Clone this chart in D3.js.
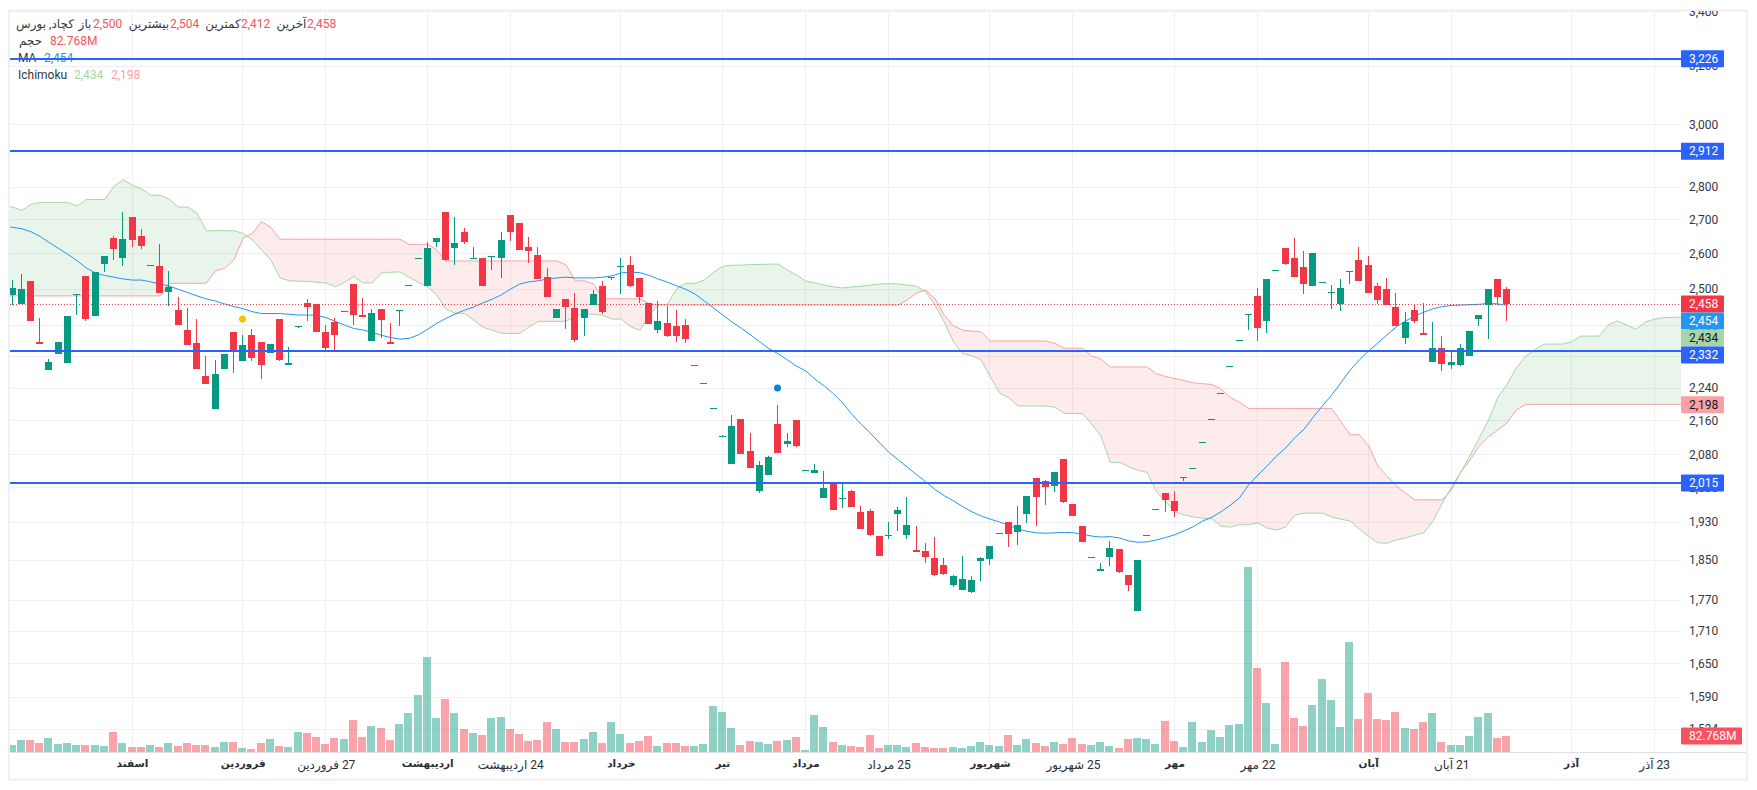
<!DOCTYPE html>
<html>
<head>
<meta charset="utf-8">
<title>کچاد</title>
<script src="https://cdn.jsdelivr.net/npm/d3@7"></script>
<style>
  html, body { margin: 0; background: #fff; }
  svg { display: block; }
  text { font-family: Roboto, "DejaVu Sans", sans-serif; font-size: 12px; }
</style>
</head>
<body>
<div id="chart"></div>
<script>
// candles
const opens = [
  2482,2458,2521,2357,2284,2326,2302,2482,2535,2426,
  2569,2645,2587,2707,2651,2566,2563,2491,2442,2388,
  2354,2269,2187,2287,2383,2307,2375,2357,2328,2417,
  2297,2396,2461,2458,2383,2409,2439,2513,2428,2359,
  2445,2357,2439,2510,2587,2507,2633,2722,2616,2662,
  2584,2587,2590,2587,2713,2689,2619,2595,2532,2420,
  2472,2447,2420,2455,2507,2530,2560,2566,2530,2461,
  2388,2407,2399,2401,2297,2252,2190,2121,2058,2163,
  2088,1998,2033,2151,2104,2161,2045,2038,1982,2013,
  1980,1998,1952,1954,1900,1900,1947,1902,1871,1869,
  1854,1840,1800,1790,1786,1848,1852,1907,1930,1909,
  1947,2027,2020,2009,2069,1969,1921,1856,1828,1856,
  1873,1820,1749,1902,1958,1993,1976,2027,2049,2109,
  2163,2227,2294,2362,2428,2480,2412,2552,2616,2587,
  2561,2507,2518,2488,2458,2546,2581,2566,2507,2499,
  2450,2367,2442,2380,2305,2341,2297,2297,2320,2417,
  2455,2527,2500
];
const highs = [
  2524,2541,2521,2420,2313,2357,2426,2485,2535,2546,
  2593,2651,2722,2707,2671,2566,2628,2549,2477,2447,
  2417,2320,2310,2326,2383,2375,2391,2357,2352,2417,
  2344,2399,2472,2458,2401,2420,2439,2513,2474,2445,
  2445,2407,2442,2510,2587,2633,2645,2722,2707,2674,
  2619,2587,2593,2662,2713,2689,2648,2619,2558,2445,
  2472,2488,2445,2496,2521,2532,2587,2593,2530,2461,
  2466,2453,2442,2417,2297,2252,2190,2125,2173,2163,
  2130,2065,2076,2197,2130,2161,2045,2058,2043,2013,
  2013,2000,1965,1958,1900,1930,1963,1985,1921,1886,
  1898,1854,1820,1858,1818,1856,1879,1907,1930,1965,
  1987,2027,2022,2040,2069,1969,1921,1856,1844,1890,
  1873,1820,1850,1902,1958,1993,1998,2029,2049,2109,
  2163,2227,2294,2362,2431,2502,2527,2552,2616,2645,
  2607,2601,2518,2510,2527,2549,2619,2593,2516,2530,
  2488,2436,2458,2461,2409,2372,2333,2352,2386,2428,
  2499,2527,2504
];
const lows = [
  2455,2458,2412,2352,2284,2326,2302,2428,2412,2426,
  2546,2581,2563,2619,2613,2566,2488,2453,2401,2349,
  2287,2249,2187,2287,2276,2307,2307,2261,2328,2307,
  2297,2393,2412,2383,2331,2331,2439,2401,2423,2359,
  2367,2352,2399,2510,2587,2507,2619,2578,2566,2627,
  2584,2507,2552,2530,2636,2610,2572,2527,2477,2420,
  2391,2357,2372,2455,2431,2524,2485,2505,2461,2404,
  2380,2370,2357,2354,2297,2252,2190,2121,2058,2081,
  2049,1993,2033,2083,2097,2097,2045,2038,1982,1956,
  1960,1963,1915,1900,1858,1894,1911,1894,1867,1844,
  1818,1820,1796,1790,1784,1808,1840,1907,1877,1881,
  1928,1921,1967,1996,1972,1943,1888,1856,1828,1838,
  1824,1788,1749,1902,1958,1952,1941,2020,2049,2109,
  2163,2227,2294,2362,2388,2359,2380,2552,2566,2532,
  2485,2507,2518,2445,2439,2513,2521,2488,2458,2455,
  2399,2352,2407,2375,2305,2282,2287,2294,2320,2399,
  2364,2455,2412
];
const closes = [
  2502,2499,2412,2352,2305,2357,2426,2485,2418,2546,
  2593,2613,2642,2639,2622,2566,2488,2505,2401,2349,
  2287,2249,2274,2326,2331,2349,2315,2297,2352,2310,
  2302,2399,2450,2383,2341,2375,2439,2428,2423,2434,
  2415,2352,2442,2510,2587,2616,2645,2581,2630,2633,
  2587,2507,2593,2639,2662,2610,2607,2527,2477,2445,
  2450,2362,2445,2485,2436,2532,2563,2507,2477,2404,
  2412,2372,2372,2365,2297,2252,2190,2123,2147,2081,
  2049,2056,2074,2083,2112,2100,2045,2045,2004,1956,
  1982,1963,1915,1902,1858,1902,1956,1923,1867,1856,
  1820,1822,1818,1812,1810,1854,1879,1907,1905,1923,
  1987,1985,2007,2040,1974,1943,1888,1856,1832,1875,
  1826,1800,1850,1902,1958,1978,1954,2029,2049,2109,
  2163,2227,2294,2362,2431,2393,2527,2552,2569,2532,
  2513,2601,2518,2491,2502,2549,2521,2488,2469,2455,
  2399,2409,2412,2375,2341,2300,2305,2341,2386,2428,
  2499,2477,2458
];
// volume in millions
const volumes = [
  38,64,64,48,74,43,48,38,38,38,
  33,105,48,28,28,38,28,48,33,48,
  38,38,28,53,53,22,17,48,69,33,
  28,105,100,79,43,74,69,167,79,136,
  126,64,146,203,296,493,177,276,203,121,
  100,90,177,183,121,95,59,64,157,121,
  53,53,69,105,48,157,95,48,59,84,
  33,48,48,33,33,43,240,208,126,38,
  59,53,43,59,64,79,12,193,131,53,
  38,33,28,90,22,38,38,28,48,28,
  22,22,28,22,33,53,38,33,90,38,
  69,48,33,53,43,74,43,38,53,33,
  22,69,74,69,43,162,59,28,157,52,
  114,78,140,145,956,434,253,41,465,176,
  134,243,377,269,129,569,171,305,171,165,
  207,124,119,155,202,52,36,36,83,181,
  202,72,82.768
];

// indicators start one bar before the first candle, the spans run on past the last one
const indicatorStart = -1;
const maValues = [
  2678,2676,2672,2663,2649,2631,2614,2597,2579,2558,2544,
  2537,2532,2527,2524,2524,2519,2513,2507,2498,2489,
  2480,2472,2466,2458,2451,2445,2437,2432,2432,2432,
  2430,2428,2428,2427,2421,2411,2401,2392,2388,2382,
  2374,2368,2364,2366,2375,2390,2406,2419,2431,2441,
  2450,2461,2471,2483,2499,2513,2519,2522,2527,2530,
  2532,2530,2530,2530,2532,2536,2544,2546,2545,2537,
  2527,2518,2508,2498,2485,2466,2447,2428,2409,2393,
  2375,2357,2339,2326,2310,2294,2282,2261,2244,2225,
  2202,2175,2151,2130,2107,2085,2068,2051,2034,2018,
  2001,1987,1976,1963,1952,1943,1936,1930,1923,1915,
  1910,1907,1906,1907,1908,1907,1904,1900,1898,1899,
  1896,1890,1887,1888,1892,1897,1903,1911,1920,1932,
  1940,1952,1966,1982,2011,2033,2054,2076,2095,2119,
  2139,2168,2195,2222,2252,2284,2310,2333,2354,2375,
  2396,2412,2425,2436,2445,2451,2454,2455,2456,2457,
  2460,2458,2454
];
const spanA = [
  2740,2737,2727,2745,2751,2751,2751,2751,2740,2760,2760,
  2760,2801,2821,2804,2793,2773,2773,2760,2737,2737,
  2718,2666,2666,2666,2666,2658,2639,2610,2581,2530,
  2522,2521,2520,2518,2516,2505,2518,2534,2516,2516,
  2544,2546,2547,2532,2518,2505,2482,2444,2433,2432,
  2415,2395,2388,2379,2379,2379,2396,2411,2411,2411,
  2411,2424,2432,2430,2427,2417,2417,2397,2387,2424,
  2456,2457,2500,2515,2515,2524,2546,2563,2566,2566,
  2568,2568,2569,2569,2552,2538,2521,2516,2510,2505,
  2502,2505,2507,2510,2513,2514,2513,2510,2507,2491,
  2455,2409,2357,2326,2321,2310,2267,2227,2215,2195,
  2195,2195,2195,2192,2177,2177,2177,2151,2123,2062,
  2062,2052,2044,2039,1996,1974,1952,1945,1941,1938,
  1937,1921,1919,1924,1924,1928,1917,1913,1919,1945,
  1949,1949,1949,1941,1936,1932,1915,1900,1886,1885,
  1892,1896,1902,1907,1932,1971,2007,2040,2078,2119,
  2161,2215,2248,2289,2319,2336,2351,2351,2351,2357,
  2372,2372,2372,2402,2412,2401,2390,2409,2417,2421,
  2422,2422
];
const spanB = [
  2480,2480,2480,2480,2480,2480,2480,2480,2480,2480,2480,
  2480,2480,2480,2480,2480,2480,2480,2515,2515,2515,
  2515,2515,2550,2557,2581,2644,2658,2693,2676,2641,
  2641,2641,2641,2641,2641,2641,2641,2641,2641,2641,
  2641,2641,2641,2626,2626,2626,2610,2578,2578,2578,
  2578,2578,2578,2578,2578,2578,2578,2578,2578,2578,
  2567,2522,2522,2513,2472,2472,2472,2472,2472,2460,
  2455,2455,2455,2455,2455,2455,2455,2455,2455,2455,
  2455,2455,2455,2455,2455,2455,2455,2455,2455,2455,
  2455,2455,2455,2455,2455,2455,2455,2469,2488,2496,
  2472,2428,2399,2388,2385,2383,2359,2359,2359,2359,
  2359,2359,2359,2353,2340,2340,2340,2320,2312,2292,
  2292,2292,2292,2292,2275,2268,2263,2258,2252,2250,
  2248,2237,2216,2204,2189,2189,2189,2189,2189,2189,
  2189,2189,2189,2189,2157,2126,2126,2101,2054,2031,
  2009,1993,1978,1978,1978,1978,2000,2040,2067,2100,
  2121,2137,2154,2185,2199,2199,2199,2199,2199,2199,
  2199,2199,2199,2199,2199,2199,2199,2199,2199,2199,
  2199,2199
];

const markerBars = [25, 83];
const markerPrices = [2417, 2239];
const markerColors = ["#f5c400", "#0d7fd6"];

const levelLines = [3226, 2912, 2332, 2015];
const lastPrice = 2458;
const lastMa = 2454;
const lastSpanA = 2434;
const lastSpanB = 2198;
const lastVolumeText = "82.768M";

const priceTicks = [3400,3200,3000,2800,2700,2600,2500,2400,2320,2240,2160,2080,2006,1930,1850,1770,1710,1650,1590,1534];
const timeTickBars = [13,25,34,45,54,66,77,86,95,106,115,126,135,147,156,169,178];
const timeTickLabels = ["اسفند","فروردین","27 فروردین","اردیبهشت","24 اردیبهشت","خرداد","تیر","مرداد","25 مرداد","شهریور","25 شهریور","مهر","22 مهر","آبان","21 آبان","آذر","23 آذر"];
const timeTickBold = [true,true,false,true,false,true,true,true,false,true,false,true,false,true,false,true,false];

const width = 1757, height = 790;
const pane = { left: 10, top: 11, right: 1681, bottom: 752 };
const green = "#089981", red = "#f23645", blue = "#2962ff";
const fmt = d3.format(",");

const svg = d3.select("#chart").append("svg").attr("width", width).attr("height", height);
const defs = svg.append("defs");

const xLinear = d3.scaleLinear().domain([0, 162]).range([12.1, 1506.55]);
const x = i => Math.floor(xLinear(i)) + 0.5;
const y = d3.scaleLog().domain([3000, 1650]).range([124.3, 663.3]);
const yVol = d3.scaleLinear().domain([0, 82.768]).range([pane.bottom, pane.bottom - 16]);

defs.append("clipPath").attr("id", "paneClip").append("rect")
  .attr("x", pane.left).attr("y", pane.top)
  .attr("width", pane.right - pane.left).attr("height", pane.bottom - pane.top);
defs.append("clipPath").attr("id", "scaleClip").append("rect")
  .attr("x", pane.right).attr("y", pane.top)
  .attr("width", 66).attr("height", height - pane.top);

// frame
svg.append("rect").attr("x", 9).attr("y", 10.5).attr("width", 1738).attr("height", 769)
  .attr("fill", "none").attr("stroke", "#f0f0f4").attr("stroke-width", 2);

// grid
const grid = svg.append("g").attr("shape-rendering", "crispEdges").attr("stroke", "#f0f0f2");
grid.selectAll(".h").data(priceTicks).enter().append("line")
  .attr("x1", pane.left).attr("x2", pane.right)
  .attr("y1", d => Math.round(y(d)) + 0.5).attr("y2", d => Math.round(y(d)) + 0.5);
grid.selectAll(".v").data(timeTickBars).enter().append("line")
  .attr("x1", d => x(d)).attr("x2", d => x(d))
  .attr("y1", pane.top).attr("y2", pane.bottom);

const plot = svg.append("g").attr("clip-path", "url(#paneClip)");

// volume
plot.append("g").attr("shape-rendering", "crispEdges")
  .selectAll("rect").data(volumes).enter().append("rect")
  .attr("x", (d, i) => x(i) - 4.5)
  .attr("width", 8)
  .attr("y", d => yVol(d))
  .attr("height", d => pane.bottom - yVol(d))
  .attr("fill", (d, i) => closes[i] >= opens[i] ? green : red)
  .attr("fill-opacity", 0.45);

// ichimoku cloud, split in two where the spans cross
const cloudRows = spanA.map((a, k) => ({ i: k + indicatorStart, a, b: spanB[k] }));
const cloudX = d => xLinear(d.i) + 0.4;
defs.append("clipPath").attr("id", "aboveB").append("path")
  .attr("d", d3.area().x(cloudX).y0(0).y1(d => y(d.b))(cloudRows));
defs.append("clipPath").attr("id", "belowB").append("path")
  .attr("d", d3.area().x(cloudX).y0(d => y(d.b)).y1(height)(cloudRows));
const cloudArea = d3.area().x(cloudX).y0(d => y(d.a)).y1(d => y(d.b));
plot.append("g").attr("clip-path", "url(#aboveB)").append("path")
  .attr("d", cloudArea(cloudRows)).attr("fill", "#4caf50").attr("fill-opacity", 0.12);
plot.append("g").attr("clip-path", "url(#belowB)").append("path")
  .attr("d", cloudArea(cloudRows)).attr("fill", red).attr("fill-opacity", 0.1);
plot.append("path").attr("d", d3.line().x(cloudX).y(d => y(d.a))(cloudRows))
  .attr("fill", "none").attr("stroke", "#a5d6a7").attr("stroke-width", 1);
plot.append("path").attr("d", d3.line().x(cloudX).y(d => y(d.b))(cloudRows))
  .attr("fill", "none").attr("stroke", "#faa1a4").attr("stroke-width", 1);

// moving average
plot.append("path")
  .attr("d", d3.line().x((d, k) => xLinear(k + indicatorStart) + 0.4).y(d => y(d))(maValues))
  .attr("fill", "none").attr("stroke", "#2196f3").attr("stroke-width", 1);

// last price
plot.append("line")
  .attr("x1", pane.left).attr("x2", pane.right)
  .attr("y1", Math.round(y(lastPrice)) + 0.5).attr("y2", Math.round(y(lastPrice)) + 0.5)
  .attr("stroke", red).attr("stroke-width", 1).attr("stroke-dasharray", "1 2");

// candles
const candles = opens.map((o, i) => ({ i, o, h: highs[i], l: lows[i], c: closes[i] }));
const candleG = plot.append("g").attr("shape-rendering", "crispEdges");
candleG.selectAll(".wick").data(candles).enter().append("rect")
  .attr("x", d => x(d.i) - 0.5).attr("width", 1)
  .attr("y", d => Math.round(y(d.h)))
  .attr("height", d => Math.max(1, Math.round(y(d.l)) - Math.round(y(d.h))))
  .attr("fill", d => d.c >= d.o ? green : red);
candleG.selectAll(".body").data(candles).enter().append("rect")
  .attr("x", d => x(d.i) - 3.5).attr("width", 7)
  .attr("y", d => Math.round(y(Math.max(d.o, d.c))))
  .attr("height", d => Math.max(1, Math.round(y(Math.min(d.o, d.c))) - Math.round(y(Math.max(d.o, d.c)))))
  .attr("fill", d => d.c >= d.o ? green : red);

// markers
plot.selectAll(".marker").data(markerBars).enter().append("circle")
  .attr("cx", d => x(d)).attr("cy", (d, k) => y(markerPrices[k]))
  .attr("r", 3.5).attr("fill", (d, k) => markerColors[k]);

// legend
const legendDark = "#333842", legendRed = "#f7525f", legendBlue = "#2196f3";
const legendG = svg.append("g");
function rtl(txt, cx, cy) {
  legendG.append("text").attr("x", cx).attr("y", cy).attr("dy", "0.35em")
    .attr("text-anchor", "middle").style("direction", "rtl").attr("fill", legendDark).text(txt);
}
function ltr(txt, left, cy, color) {
  legendG.append("text").attr("x", left).attr("y", cy).attr("dy", "0.35em")
    .attr("fill", color).text(txt);
}
const lastIdx = opens.length - 1;
rtl("کچاد, بورس", 45, 24);
rtl("باز", 85, 24);
ltr(fmt(opens[lastIdx]), 93, 24, legendRed);
rtl("بیشترین", 149, 24);
ltr(fmt(highs[lastIdx]), 170, 24, legendRed);
rtl("کمترین", 223, 24);
ltr(fmt(lows[lastIdx]), 241, 24, legendRed);
rtl("آخرین", 291.5, 24);
ltr(fmt(closes[lastIdx]), 307, 24, legendRed);
rtl("حجم", 30.5, 41);
ltr(lastVolumeText, 50, 41, legendRed);
ltr("MA", 18, 58, legendDark);
ltr(fmt(lastMa), 44, 58, legendBlue);
ltr("Ichimoku", 18, 75, legendDark);
ltr(fmt(lastSpanA), 74, 75, "#a5d6a7");
ltr(fmt(lastSpanB), 111, 75, "#faa1a4");

// level lines sit on top of everything in the pane
svg.append("g").attr("shape-rendering", "crispEdges")
  .selectAll("line").data(levelLines).enter().append("line")
  .attr("x1", pane.left).attr("x2", pane.right)
  .attr("y1", d => y(d)).attr("y2", d => y(d))
  .attr("stroke", blue).attr("stroke-width", 2);

// time axis
svg.append("line").attr("x1", pane.left).attr("x2", 1746)
  .attr("y1", pane.bottom + 0.5).attr("y2", pane.bottom + 0.5)
  .attr("stroke", "#dfe1e8").attr("shape-rendering", "crispEdges");
const timeAxis = d3.axisBottom(xLinear)
  .tickValues(timeTickBars)
  .tickFormat((d, k) => timeTickLabels[k])
  .tickSize(0).tickPadding(8);
const timeG = svg.append("g").attr("transform", `translate(0,${pane.bottom})`).call(timeAxis);
timeG.select(".domain").remove();
timeG.selectAll("text")
  .style("direction", "rtl")
  .style("font-size", (d, k) => timeTickBold[k] ? "10.5px" : "12px")
  .style("font-family", 'Roboto, "DejaVu Sans", sans-serif')
  .attr("fill", "#2a2e39")
  .attr("font-weight", (d, k) => timeTickBold[k] ? 700 : 400);

// price axis
const priceAxis = d3.axisRight(y)
  .tickValues(priceTicks)
  .tickFormat(fmt)
  .tickSize(0).tickPadding(8);
const priceG = svg.append("g").attr("clip-path", "url(#scaleClip)")
  .append("g").attr("transform", `translate(${pane.right},0)`).call(priceAxis);
priceG.select(".domain").remove();
priceG.selectAll("text")
  .style("font-size", "12px")
  .style("font-family", "Roboto, sans-serif")
  .attr("fill", "#333842");

// price labels, pushed down where they would overlap
const priceLabels = [
  { v: 3226, bg: blue, fg: "#fff" },
  { v: 2912, bg: blue, fg: "#fff" },
  { v: lastPrice, bg: red, fg: "#fff" },
  { v: lastMa, bg: "#2196f3", fg: "#fff" },
  { v: lastSpanA, bg: "#a5d6a7", fg: "#131722" },
  { v: 2332, bg: blue, fg: "#fff" },
  { v: lastSpanB, bg: "#faa1a4", fg: "#131722" },
  { v: 2015, bg: blue, fg: "#fff" }
];
let prevCenter = -100;
priceLabels.forEach(d => {
  d.cy = Math.max(y(d.v), prevCenter + 17);
  prevCenter = d.cy;
});
const labelG = svg.append("g").selectAll("g").data(priceLabels).enter().append("g");
labelG.append("rect")
  .attr("x", pane.right).attr("y", d => d.cy - 8.5)
  .attr("width", 43).attr("height", 17).attr("rx", 1)
  .attr("fill", d => d.bg);
labelG.append("text")
  .attr("x", pane.right + 8).attr("y", d => d.cy).attr("dy", "0.35em")
  .attr("fill", d => d.fg).text(d => fmt(d.v));

const volY = yVol(volumes[lastIdx]);
svg.append("rect").attr("x", pane.right).attr("y", volY - 8.5)
  .attr("width", 61).attr("height", 17).attr("rx", 1).attr("fill", legendRed);
svg.append("text").attr("x", pane.right + 8).attr("y", volY).attr("dy", "0.35em")
  .attr("fill", "#fff").text(lastVolumeText);
</script>
</body>
</html>
